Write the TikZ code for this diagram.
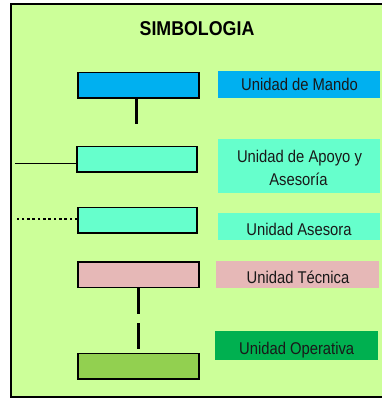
\documentclass[tikz,border=0pt]{standalone}
\usepackage{fontspec}
\newfontfamily\lblfont[FakeStretch=0.87]{Liberation Sans}
\newfontfamily\ttlfont[FakeStretch=0.89]{Liberation Sans}
\definecolor{bgg}{HTML}{CCFF99}
\definecolor{mando}{HTML}{00B0F0}
\definecolor{apoyo}{HTML}{66FFCC}
\definecolor{tecnica}{HTML}{E6B8B7}
\definecolor{operbox}{HTML}{92D050}
\definecolor{operlab}{HTML}{00B050}
\begin{document}
\begin{tikzpicture}[x=1pt,y=-1pt,
  unitbox/.style={draw=black,line width=1.8pt,minimum width=120.5pt,minimum height=25.5pt,inner sep=0pt},
  labbox/.style={inner sep=0pt,minimum width=162pt,minimum height=26.7pt},
  labtext/.style={anchor=base,inner sep=0pt,font=\lblfont\fontsize{17}{20}\selectfont,text=black!90},
  link/.style={line width=2.8pt},
  thinlink/.style={line width=1pt}]
\useasboundingbox (0,0) rectangle (381,399);
\draw[fill=bgg,line width=1.3pt] (11,4) rectangle (384,397);
\node[anchor=base,inner sep=0pt,font=\ttlfont\bfseries\fontsize{20}{24}\selectfont] (title) at (197,35) {SIMBOLOGIA};
% boxes
\node[unitbox,fill=mando] (b1) at (138.5,85.3) {};
\node[unitbox,fill=apoyo] (b2) at (137,159.3) {};
\node[unitbox,fill=apoyo,minimum width=119pt] (b3) at (137.8,220.2) {};
\node[unitbox,fill=tecnica] (b4) at (138.5,274.8) {};
\node[unitbox,fill=operbox] (b5) at (138.5,366.3) {};
% labels
\node[labbox,fill=mando] (l1) at (299,84.3) {};
\node[labbox,fill=apoyo,minimum height=53.7pt] (l2) at (299,165.8) {};
\node[labbox,fill=apoyo] (l3) at (299,226.7) {};
\node[labbox,fill=tecnica,minimum width=163pt] (l4) at (297.5,274.3) {};
\node[labbox,fill=operlab,minimum width=163pt,minimum height=29pt] (l5) at (296.5,345.5) {};
\node[labtext] (t1) at (299.5,90.7) {Unidad de Mando};
\node[labtext] (t2a) at (299.5,162.3) {Unidad de Apoyo y};
\node[labtext] (t2b) at (298.5,185.7) {Asesoría};
\node[labtext] (t3) at (299,235.7) {Unidad Asesora};
\node[labtext] (t4) at (298,283.3) {Unidad Técnica};
\node[labtext] (t5) at (296.7,354) {Unidad Operativa};
% connectors
\coordinate (c1) at (136.7,124.3);
\coordinate (c2) at (15,163.3);
\coordinate (c3) at (15,219);
\draw[link] (b1.south -| c1) -- (c1);
\draw[thinlink] (b2.west |- c2) -- (c2);
\draw[link,dash pattern=on 2.6pt off 2.7pt] (b3.west |- c3) -- (c3);
\draw[link,dash pattern=on 26pt off 9pt] ([xshift=-0.2pt]b4.south) -- ([xshift=-0.2pt]b5.north);
\end{tikzpicture}
\end{document}
